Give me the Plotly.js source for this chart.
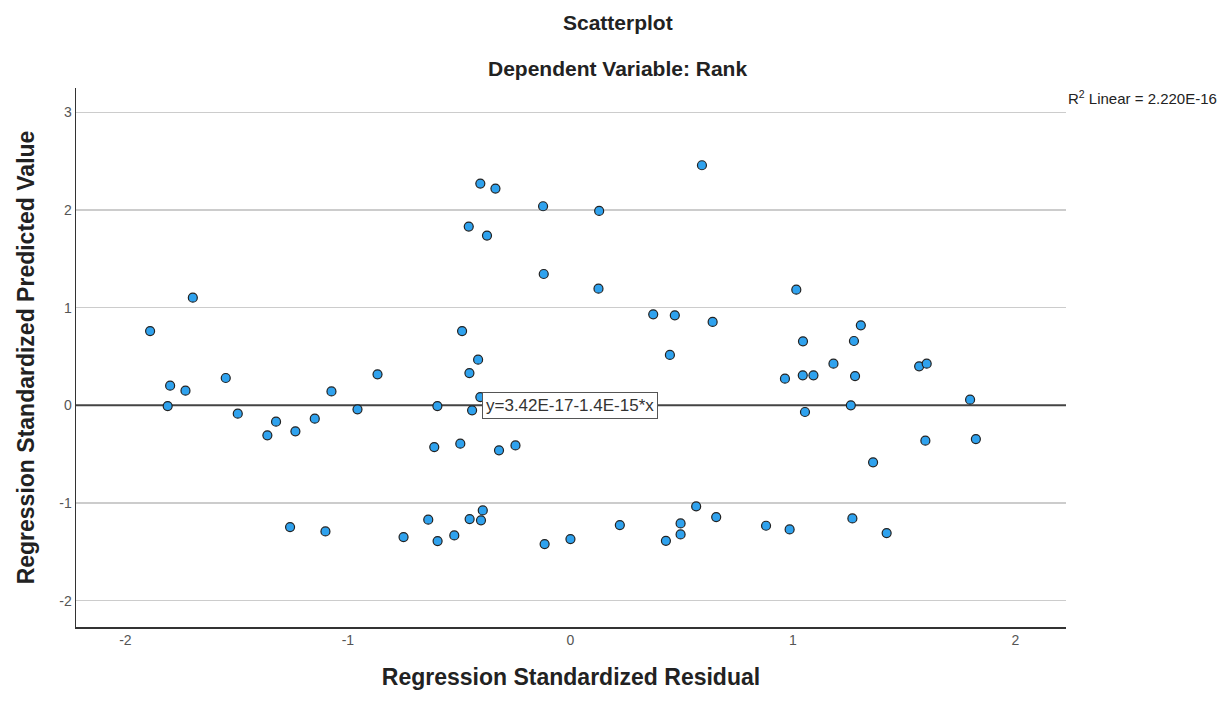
<!DOCTYPE html>
<html>
<head>
<meta charset="utf-8">
<script src="https://cdn.plot.ly/plotly-3.0.1.min.js"></script>
<style>html,body{margin:0;padding:0;background:#fff;}#chart{width:1227px;height:702px;}</style>
</head>
<body>
<div id="chart"></div>
<script>
// Regression Standardized Residual (x) and Regression Standardized Predicted Value (y)
const residual = [
  -1.889, -1.697, -1.799, -1.730, -1.810, -1.549, -1.495, -1.362, -1.323, -1.236,
  -1.149, -1.074, -0.957, -0.867, -0.598, -0.612, -0.495, -1.260, -1.101, -0.750,
  -0.639, -0.597, -0.522, -0.487, -0.454, -0.415, -0.442, -0.405, -0.321, -0.247,
  -0.453, -0.402, -0.394, -0.116, 0.000, 0.222, 0.429, 0.495, 0.495, 0.565,
  0.655, 0.879, 0.985, -0.405, -0.337, -0.123, 0.129, 0.591, -0.457, -0.375,
  -0.120, 0.126, 1.015, 0.372, 0.469, 0.639, 1.045, 0.447, 1.182, 1.305,
  1.274, 1.567, 1.601, 0.964, 1.044, 1.092, 1.279, 1.260, 1.054, 1.796,
  1.595, 1.822, 1.360, 1.267, 1.421
];
const predicted = [
  0.761, 1.103, 0.201, 0.150, -0.007, 0.280, -0.085, -0.307, -0.167, -0.266,
  -0.137, 0.143, -0.041, 0.318, -0.007, -0.427, -0.393, -1.247, -1.291, -1.349,
  -1.171, -1.390, -1.332, 0.761, 0.331, 0.468, -0.051, 0.085, -0.461, -0.410,
  -1.165, -1.178, -1.076, -1.421, -1.370, -1.226, -1.387, -1.209, -1.322, -1.035,
  -1.144, -1.233, -1.271, 2.271, 2.220, 2.039, 1.991, 2.459, 1.831, 1.739,
  1.345, 1.195, 1.185, 0.932, 0.922, 0.854, 0.656, 0.516, 0.427, 0.820,
  0.659, 0.400, 0.427, 0.273, 0.307, 0.307, 0.300, 0.000, -0.068, 0.058,
  -0.362, -0.345, -0.584, -1.158, -1.308
];
const xTicks = [-2, -1, 0, 1, 2];
const yTicks = [-2, -1, 0, 1, 2, 3];
const xRange = [-2.222, 2.227];
const yRange = [-2.27, 3.25];
const fitIntercept = 3.42e-17;
const fitSlope = -1.4e-15;
const fitLabel = "y=3.42E-17-1.4E-15*x";
const r2Label = "R<sup>2</sup> Linear = 2.220E-16";

const FONT = "Liberation Sans, Arial, sans-serif";
const fitX = xRange.slice();
const fitY = fitX.map(v => fitIntercept + fitSlope * v);

const traces = [
  {
    x: fitX, y: fitY, type: "scatter", mode: "lines",
    line: {color: "#444444", width: 2}, hoverinfo: "skip", showlegend: false
  },
  {
    x: residual, y: predicted, type: "scatter", mode: "markers",
    marker: {size: 9, color: "#2fa2ee", line: {color: "#222222", width: 1.2}},
    showlegend: false, cliponaxis: false
  }
];

const layout = {
  width: 1227, height: 702,
  margin: {l: 76, r: 161, t: 88, b: 75},
  paper_bgcolor: "#ffffff", plot_bgcolor: "#ffffff",
  font: {family: FONT, color: "#222"},
  showlegend: false,
  xaxis: {
    range: xRange, tickvals: xTicks, ticktext: xTicks.map(String),
    showgrid: false, zeroline: false,
    showline: true, linecolor: "#333", linewidth: 1.5, mirror: false,
    ticks: "", tickfont: {size: 14, color: "#555", family: FONT},
    title: {text: "Regression Standardized Residual", font: {size: 23, color: "#222", family: FONT, weight: "bold"}, standoff: 21}
  },
  yaxis: {
    range: yRange, tickvals: yTicks, ticktext: yTicks.map(String),
    showgrid: true, gridcolor: "#cccccc", gridwidth: 1.5, zeroline: false,
    showline: true, linecolor: "#333", linewidth: 1.5, mirror: false,
    ticks: "", tickfont: {size: 14, color: "#555", family: FONT},
    title: {text: "Regression Standardized Predicted Value", font: {size: 23, color: "#222", family: FONT, weight: "bold"}, standoff: 18}
  },
  annotations: [
    {text: "<b>Scatterplot</b>", xref: "paper", yref: "paper", x: 0.547, y: 1.1224,
     xanchor: "center", yanchor: "middle", showarrow: false, font: {size: 21, color: "#222"}},
    {text: "<b>Dependent Variable: Rank</b>", xref: "paper", yref: "paper", x: 0.547, y: 1.0371,
     xanchor: "center", yanchor: "middle", showarrow: false, font: {size: 21, color: "#222"}},
    {text: r2Label, xref: "paper", yref: "paper", x: 1.0, y: 0.983,
     xanchor: "left", yanchor: "middle", showarrow: false, font: {size: 15, color: "#222"}},
    {text: fitLabel, xref: "x", yref: "y", x: -0.396, y: 0,
     xanchor: "left", yanchor: "middle", showarrow: false,
     font: {size: 17, color: "#333"}, bgcolor: "#ffffff",
     bordercolor: "#555", borderwidth: 1, borderpad: 3}
  ]
};

Plotly.newPlot("chart", traces, layout, {displayModeBar: false, staticPlot: true});
</script>
</body>
</html>
